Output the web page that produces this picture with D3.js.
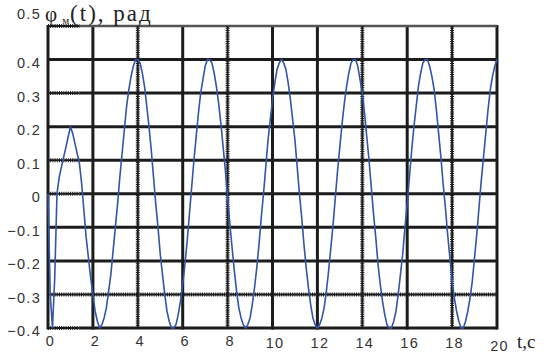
<!DOCTYPE html>
<html>
<head>
<meta charset="utf-8">
<script src="https://cdn.jsdelivr.net/npm/d3@7"></script>
<style>
  html, body { margin: 0; padding: 0; background: #fff; }
  svg { display: block; }
  .tick text { font-family: "Liberation Sans", Arial, sans-serif; font-size: 14.5px; fill: #333; letter-spacing: 1.3px; }
</style>
</head>
<body>
<svg id="chart" width="549" height="353"></svg>
<script>
// time axis, s
const xTicks = [0, 2, 4, 6, 8, 10, 12, 14, 16, 18, 20];
const yTicks = [-0.4, -0.3, -0.2, -0.1, 0, 0.1, 0.2, 0.3, 0.4, 0.5];

// scanned grid: these lines came out hatched in the original
const hatchedX = [4, 8, 14, 18];
const hatchedYFull = [-0.3];
const hatchedYLeft = [0.5, 0.3, 0.1, 0, -0.4];

// phi_m(t), every 0.1 s from t = 0 to 20
const phi = [
  0.00, -0.30, -0.40, -0.25, 0.00, 0.05, 0.08, 0.11, 0.14, 0.17,
  0.20, 0.18, 0.15, 0.12, 0.09, 0.03, -0.05, -0.13, -0.19, -0.25,
  -0.30, -0.35, -0.38, -0.40, -0.39, -0.37, -0.34, -0.29, -0.24, -0.17,
  -0.10, -0.03, 0.05, 0.12, 0.19, 0.26, 0.31, 0.35, 0.38, 0.40,
  0.40, 0.39, 0.36, 0.32, 0.26, 0.20, 0.13, 0.05, -0.03, -0.10,
  -0.18, -0.24, -0.30, -0.35, -0.38, -0.40, -0.40, -0.39, -0.36, -0.32,
  -0.27, -0.21, -0.14, -0.06, 0.02, 0.10, 0.17, 0.24, 0.30, 0.34,
  0.38, 0.40, 0.40, 0.39, 0.36, 0.32, 0.27, 0.21, 0.14, 0.07,
  -0.01, -0.09, -0.16, -0.23, -0.29, -0.34, -0.37, -0.39, -0.40, -0.39,
  -0.37, -0.33, -0.28, -0.22, -0.15, -0.07, 0.00, 0.08, 0.16, 0.22,
  0.28, 0.33, 0.37, 0.39, 0.40, 0.39, 0.37, 0.33, 0.28, 0.22,
  0.16, 0.08, 0.00, -0.07, -0.15, -0.22, -0.28, -0.33, -0.37, -0.39,
  -0.40, -0.39, -0.37, -0.34, -0.29, -0.23, -0.16, -0.09, -0.01, 0.07,
  0.14, 0.21, 0.27, 0.32, 0.36, 0.39, 0.40, 0.40, 0.38, 0.34,
  0.30, 0.24, 0.17, 0.10, 0.02, -0.06, -0.13, -0.21, -0.27, -0.32,
  -0.36, -0.39, -0.40, -0.40, -0.38, -0.35, -0.30, -0.24, -0.18, -0.10,
  -0.03, 0.05, 0.13, 0.20, 0.26, 0.32, 0.36, 0.39, 0.40, 0.40,
  0.38, 0.35, 0.31, 0.25, 0.18, 0.11, 0.03, -0.04, -0.12, -0.19,
  -0.26, -0.31, -0.35, -0.38, -0.40, -0.40, -0.38, -0.35, -0.31, -0.26,
  -0.19, -0.12, -0.04, 0.04, 0.11, 0.18, 0.25, 0.31, 0.35, 0.38,
  0.40
];
const times = phi.map((d, i) => +(i * 0.1).toFixed(1));

const margin = { top: 26, right: 52, bottom: 25, left: 48 };
const width = 549;
const height = 353;

const svg = d3.select("#chart");

const x = d3.scaleLinear()
  .domain([0, 20])
  .range([margin.left, width - margin.right]);

const y = d3.scaleLinear()
  .domain([-0.4, 0.5])
  .range([height - margin.bottom, margin.top]);

const ink = "#1c1c1c";

// grid
const grid = svg.append("g");

grid.selectAll("line.gx")
  .data(xTicks.filter(d => !hatchedX.includes(d)))
  .enter()
  .append("line")
  .attr("class", "gx")
  .attr("x1", d => x(d)).attr("x2", d => x(d))
  .attr("y1", y(-0.4) + 1.5).attr("y2", y(0.5) - 1)
  .attr("stroke", ink)
  .attr("stroke-width", 3);

grid.selectAll("line.gy")
  .data(yTicks.filter(d => !hatchedYFull.includes(d)))
  .enter()
  .append("line")
  .attr("class", "gy")
  .attr("x1", d => hatchedYLeft.includes(d) ? x(1.4) : x(0))
  .attr("x2", x(20))
  .attr("y1", d => y(d)).attr("y2", d => y(d))
  .attr("stroke", d => d === 0.5 ? "#555" : ink)
  .attr("stroke-width", d => d === 0.5 ? 2.5 : 3);

// hatched pieces: dark core plus short ticks
function hatch(x1, y1, x2, y2) {
  grid.append("line")
    .attr("x1", x1).attr("y1", y1).attr("x2", x2).attr("y2", y2)
    .attr("stroke", ink).attr("stroke-width", 2);
  grid.append("line")
    .attr("x1", x1).attr("y1", y1).attr("x2", x2).attr("y2", y2)
    .attr("stroke", ink).attr("stroke-width", 4)
    .attr("stroke-dasharray", "1,1.2");
}
hatchedX.forEach(d => hatch(x(d), y(-0.4), x(d), y(0.5)));
hatchedYFull.forEach(d => hatch(x(0), y(d), x(20), y(d)));
hatchedYLeft.forEach(d => hatch(x(0), y(d), x(1.4), y(d)));

// signal
const line = d3.line()
  .x((d, i) => x(times[i]))
  .y(d => y(d));

svg.append("path")
  .datum(phi)
  .attr("fill", "none")
  .attr("stroke", "#3354a8")
  .attr("stroke-width", 1.6)
  .attr("stroke-linejoin", "round")
  .attr("d", line);

// tick labels
const yAxis = svg.append("g")
  .attr("transform", `translate(${margin.left - 7},0)`)
  .call(d3.axisLeft(y).tickValues(yTicks).tickSize(0).tickPadding(0)
    .tickFormat(d => d === 0 ? "0" : d3.format(".1f")(d)));
yAxis.select(".domain").remove();
yAxis.selectAll(".tick text")
  .attr("dy", d => d === 0.5 ? "-0.5em" : "0.55em");

const xAxis = svg.append("g")
  .attr("transform", `translate(2,${height - margin.bottom})`)
  .call(d3.axisBottom(x).tickValues(xTicks).tickSize(0).tickPadding(8));
xAxis.select(".domain").remove();
xAxis.selectAll(".tick text")
  .attr("dy", d => d >= 20 ? "1.0em" : d >= 10 ? "0.85em" : "0.71em");

// axis titles
const title = svg.append("text")
  .attr("x", 45)
  .attr("y", 21)
  .style("font-family", "'Liberation Serif', 'Times New Roman', serif")
  .style("fill", "#222");
title.append("tspan").style("font-size", "21px").text("φ");
title.append("tspan").style("font-size", "11px").attr("dx", 5).attr("dy", 3).text("м");
title.append("tspan").style("font-size", "23px").style("letter-spacing", "2px").attr("dx", 1).attr("dy", -3).text("(t), рад");

svg.append("text")
  .attr("x", 517)
  .attr("y", 348)
  .style("font-family", "'Liberation Serif', 'Times New Roman', serif")
  .style("font-size", "19px")
  .style("fill", "#222")
  .text("t,c");
</script>
</body>
</html>
